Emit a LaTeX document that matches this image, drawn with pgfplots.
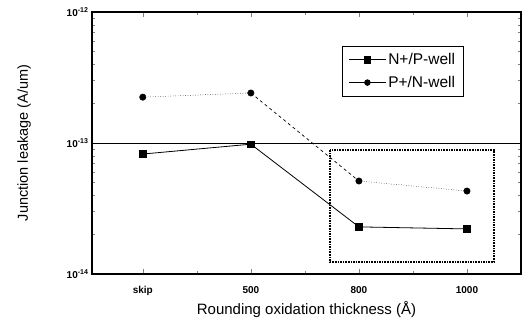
\documentclass[border=0pt]{standalone}
\usepackage{pgfplots}
\pgfplotsset{compat=1.18}
\usepackage{fontspec}
\setmainfont{Liberation Sans}
\begin{document}
\begin{tikzpicture}
\begin{axis}[
  name=ax,
  scale only axis, width=429pt, height=262pt,
  ymode=log, ymin=1e-14, ymax=1e-12,
  xmin=-0.47, xmax=3.5,
  xtick={0,1,2,3}, xticklabels={skip,500,800,1000},
  minor xtick={0.5,1.5,2.5},
  tick align=inside,
  axis line style={line width=1.2pt},
  major tick length=5pt, minor tick length=3pt,
  ytick={1e-14,1e-13,1e-12},
  yticklabels={10\textsuperscript{-14},10\textsuperscript{-13},10\textsuperscript{-12}},
  yticklabel style={font=\fontsize{10}{11}\selectfont\bfseries},
  xticklabel style={font=\fontsize{10}{11}\selectfont\bfseries, yshift=-9pt},
  xlabel={Rounding oxidation thickness (\AA)},
  ylabel={Junction leakage (A/um)},
  xlabel style={font=\fontsize{15}{17}\selectfont, yshift=1pt},
  ylabel style={font=\fontsize{14.5}{16}\selectfont, yshift=29pt},
  legend style={at={(0.583,0.870)}, anchor=north west, draw=black, line width=0.8pt,
    font=\fontsize{15.5}{17}\selectfont, row sep=6pt, inner xsep=6pt, inner ysep=5pt},
  legend image code/.code={\draw[mark repeat=2,mark phase=2,#1] plot coordinates {(0cm,0cm) (0.65cm,0cm) (1.3cm,0cm)};},
  legend cell align=left,
  clip=false,
]
\addplot[black, line width=0.8pt, mark=square*, mark size=3.2pt] coordinates {(0,8.24e-14) (1,9.8e-14) (2,2.29e-14) (3,2.21e-14)};
\addlegendentry{N+/P-well}
\addplot[black, line width=0.5pt, dotted, mark=*, mark size=3.2pt, mark options={solid}, forget plot] coordinates {(0,2.24e-13) (1,2.41e-13)};
\addplot[black, line width=0.7pt, dashed, forget plot] coordinates {(1,2.41e-13) (2,5.13e-14)};
\addplot[black, line width=0.5pt, dotted, mark=*, mark size=3.2pt, mark options={solid}, forget plot] coordinates {(2,5.13e-14) (3,4.3e-14)};
\addlegendimage{black, line width=0.8pt, mark=*, mark size=2.8pt}
\addlegendentry{P+/N-well}
\draw[black, line width=0.8pt] (axis cs:-0.47,1e-13) -- (axis cs:3.5,1e-13);
\draw[black, line width=1.6pt, densely dotted] (axis cs:1.73,8.85e-14) rectangle (axis cs:3.25,1.24e-14);
\end{axis}
\path (ax.south west) ++(-92pt,-53pt) coordinate (bl);
\path (ax.north east) ++(5pt,12pt) coordinate (tr);
\path (bl) rectangle (tr);
\end{tikzpicture}
\end{document}
